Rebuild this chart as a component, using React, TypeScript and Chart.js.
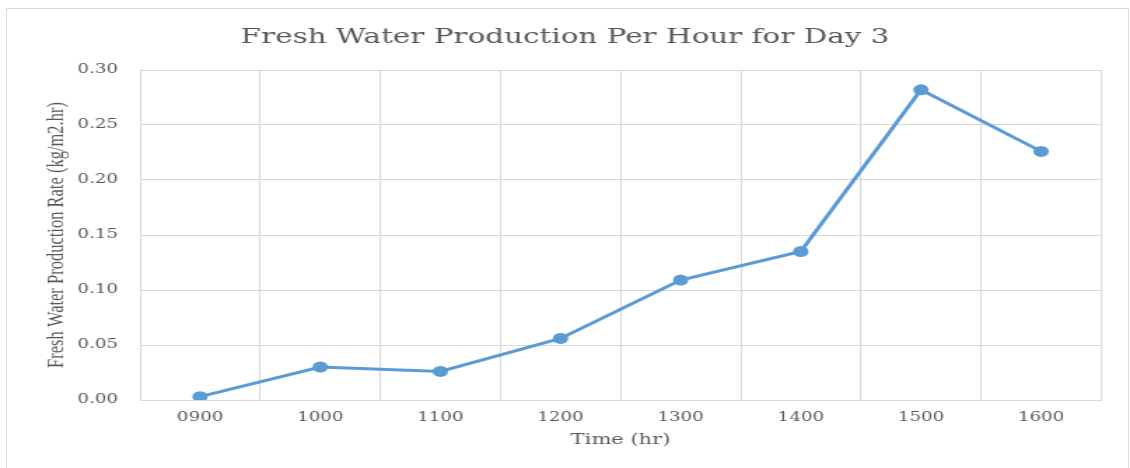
import React, { useEffect, useRef } from "react";
import { Chart, registerables } from "chart.js";

Chart.register(...registerables);

const categories = ["0900", "1000", "1100", "1200", "1300", "1400", "1500", "1600"];
const productionRate = [0.003, 0.03, 0.026, 0.056, 0.109, 0.135, 0.282, 0.226];
const yTicks = [0, 0.05, 0.1, 0.15, 0.2, 0.25, 0.3];

const titleText = "Fresh Water Production Per Hour for Day 3";
const xTitle = "Time (hr)";
const yTitle = "Fresh Water Production Rate (kg/m2.hr)";

const PAGE_W = 1130;
const PAGE_H = 468;
const STRETCH = 1.4;
const CANVAS_W = Math.round(PAGE_W / STRETCH);
const SX = PAGE_W / CANVAS_W;

export default function App() {
  const ref = useRef<HTMLCanvasElement | null>(null);

  useEffect(() => {
    if (!ref.current) return;
    const grey = "#595959";
    const gridColor = "#d9d9d9";
    const chart = new Chart(ref.current, {
      type: "line",
      data: {
        labels: categories,
        datasets: [
          {
            label: "Production",
            data: productionRate,
            borderColor: "#5b9bd5",
            backgroundColor: "#5b9bd5",
            borderWidth: 3,
            pointRadius: 5.5,
            pointBorderWidth: 0,
            pointBackgroundColor: "#5b9bd5",
            tension: 0,
            yAxisID: "y",
          },
        ],
      },
      options: {
        responsive: false,
        animation: false,
        devicePixelRatio: 1,
        layout: { padding: 0 },
        plugins: {
          legend: { display: false },
          tooltip: { enabled: false },
          title: {
            display: true,
            text: titleText,
            color: grey,
            font: { family: "'DejaVu Serif', serif", size: 21, weight: "normal" },
            padding: { top: 25.4, bottom: 19.4 },
          },
        },
        scales: {
          x: {
            type: "category",
            offset: true,
            grid: { offset: true, color: gridColor, drawTicks: false, lineWidth: 1 },
            border: { color: gridColor },
            ticks: {
              color: grey,
              padding: 10,
              font: { family: "'DejaVu Serif', serif", size: 13 },
              maxRotation: 0,
            },
            title: {
              display: true,
              text: xTitle,
              color: grey,
              font: { family: "'DejaVu Serif', serif", size: 15 },
              padding: { top: 0, bottom: 19 },
            },
            afterFit: (scale: any) => {
              scale.height = 68;
            },
          },
          y: {
            position: "left",
            min: 0,
            max: 0.3,
            grid: { color: gridColor, drawTicks: false },
            border: { color: gridColor },
            afterBuildTicks: (scale: any) => {
              scale.ticks = yTicks.map((v) => ({ value: v }));
            },
            ticks: {
              color: grey,
              padding: 15.7,
              font: { family: "'DejaVu Serif', serif", size: 13 },
              callback: (v: any) => Number(v).toFixed(2),
            },
            title: {
              display: true,
              text: yTitle,
              color: grey,
              font: { family: "'Liberation Serif', serif", size: 16.5 },
              padding: { top: 31, bottom: 0 },
            },
            afterFit: (scale: any) => {
              scale.width = 100;
            },
          },
          yRight: {
            position: "right",
            display: true,
            min: 0,
            max: 0.3,
            grid: { display: false, drawTicks: false },
            border: { display: false },
            ticks: { display: false },
            afterFit: (scale: any) => {
              scale.width = 20.6;
            },
          },
        },
      },
    });
    return () => chart.destroy();
  }, []);

  return (
    <div
      style={{
        position: "fixed",
        left: 0,
        top: 0,
        width: PAGE_W,
        height: PAGE_H,
        background: "#ffffff",
        overflow: "hidden",
      }}
    >
      <div
        style={{
          position: "absolute",
          left: 0,
          top: 0,
          width: CANVAS_W,
          height: PAGE_H,
          transform: `scaleX(${SX})`,
          transformOrigin: "0 0",
        }}
      >
        <canvas ref={ref} width={CANVAS_W} height={PAGE_H} />
      </div>
      <div
        style={{
          position: "absolute",
          left: 6,
          top: 8,
          width: 1121,
          height: 480,
          border: "1px solid #d9d9d9",
          pointerEvents: "none",
        }}
      />
    </div>
  );
}
